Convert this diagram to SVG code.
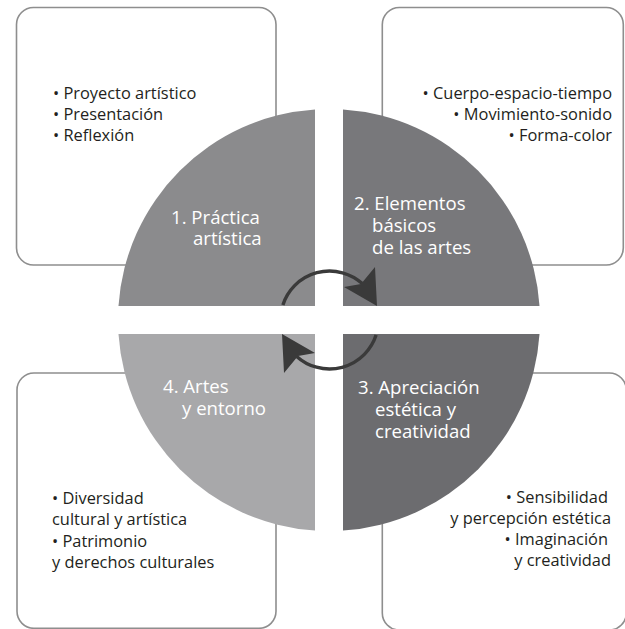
<svg xmlns="http://www.w3.org/2000/svg" width="625" height="629" viewBox="0 0 625 629">
<style>
.box{fill:#fff;stroke:#8e8e8e;stroke-width:1.6}
.body{font-family:"Open Sans","Noto Sans",sans-serif;font-size:16.4px;font-weight:500;fill:#231f20}
.lab{font-family:"Open Sans","Noto Sans",sans-serif;font-size:18.6px;fill:#fff}
.end{text-anchor:end}
.arc{fill:none;stroke:#3a3a3a;stroke-width:3.4}
.head{fill:#3a3a3a}
</style>
<rect width="625" height="629" fill="#fff"/>
<g id="box1">
<rect class="box" x="16.5" y="7.5" width="259.5" height="257.5" rx="17"/>
<text class="body" x="53" y="99">• Proyecto artístico</text>
<text class="body" x="53" y="120">• Presentación</text>
<text class="body" x="53" y="141">• Reflexión</text>
</g>
<g id="box2">
<rect class="box" x="382.3" y="7.5" width="241" height="257.5" rx="17"/>
<text class="body end" x="612" y="99">• Cuerpo-espacio-tiempo</text>
<text class="body end" x="612" y="120">• Movimiento-sonido</text>
<text class="body end" x="612" y="141">• Forma-color</text>
</g>
<g id="box3">
<rect class="box" x="382.3" y="373" width="244" height="257" rx="17"/>
<text class="body end" x="608" y="503">• Sensibilidad</text>
<text class="body end" x="611" y="524">y percepción estética</text>
<text class="body end" x="608" y="545">• Imaginación</text>
<text class="body end" x="611" y="566">y creatividad</text>
</g>
<g id="box4">
<rect class="box" x="17" y="373" width="259" height="255.3" rx="17"/>
<text class="body" x="52" y="504">• Diversidad</text>
<text class="body" x="52" y="525">cultural y artística</text>
<text class="body" x="52" y="547">• Patrimonio</text>
<text class="body" x="52" y="568">y derechos culturales</text>
</g>
<g id="q1">
<path d="M315,306 V109.47 A211,211 0 0 0 118.47,306 Z" fill="#8b8b8d"/>
<text class="lab" x="171" y="224">1. Práctica</text>
<text class="lab" x="193" y="245">artística</text>
</g>
<g id="q2">
<path d="M343,306 H539.53 A211,211 0 0 0 343,109.47 Z" fill="#78787b"/>
<text class="lab" x="354" y="210">2. Elementos</text>
<text class="lab" x="372" y="232">básicos</text>
<text class="lab" x="372" y="254">de las artes</text>
</g>
<g id="q3">
<path d="M343,334 V530.53 A211,211 0 0 0 539.53,334 Z" fill="#6c6c6f"/>
<text class="lab" x="358" y="394">3. Apreciación</text>
<text class="lab" x="375" y="416">estética y</text>
<text class="lab" x="375" y="438">creatividad</text>
</g>
<g id="q4">
<path d="M315,334 H118.47 A211,211 0 0 0 315,530.53 Z" fill="#a8a8aa"/>
<text class="lab" x="163" y="393">4. Artes</text>
<text class="lab" x="182" y="415">y entorno</text>
</g>
<g id="connectors">
<path class="arc" d="M282.9,304.9 A49,49 0 0 1 362.3,283.6"/>
<polygon class="head" points="375,267 377,306 344,287 361,284"/>
<path class="arc" d="M376.1,335.1 A49,49 0 0 1 296.7,356.4"/>
<polygon class="head" points="284,373 282,334 315,353 298,356"/>
</g>
</svg>
